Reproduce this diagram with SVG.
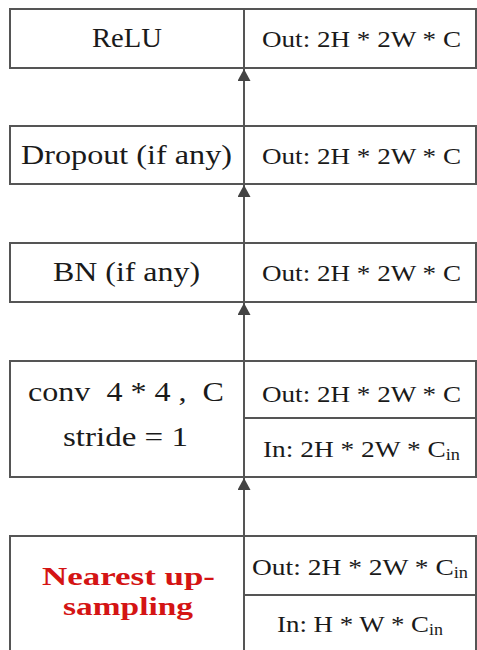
<svg xmlns="http://www.w3.org/2000/svg" width="477" height="650" viewBox="0 0 477 650">
<defs>
<style>
.box{fill:#fff;stroke:#555;stroke-width:2}
.ln{stroke:#555;stroke-width:2;fill:none}
text{font-family:"Liberation Serif","DejaVu Serif",serif;text-anchor:middle;fill:#1a1a1a}
.t{font-size:28px}
.r{font-size:24px}
.red{font-size:26px;font-weight:bold;fill:#d41414}
.sub{font-size:16px}
</style>
<marker id="ah" viewBox="0 0 12 13" refX="12" refY="6.5" markerWidth="12" markerHeight="13" markerUnits="userSpaceOnUse" orient="auto">
<path d="M0,0 L12,6.5 L0,13 Z" fill="#444"/>
</marker>
</defs>
<g id="connectors">
<line class="ln" x1="244" y1="126" x2="244" y2="69" marker-end="url(#ah)"/>
<line class="ln" x1="244" y1="243" x2="244" y2="185" marker-end="url(#ah)"/>
<line class="ln" x1="244" y1="361" x2="244" y2="303" marker-end="url(#ah)"/>
<line class="ln" x1="244" y1="536" x2="244" y2="478" marker-end="url(#ah)"/>
</g>
<g id="relu">
<rect class="box" x="10" y="9" width="466" height="59"/>
<line class="ln" x1="244" y1="9" x2="244" y2="68"/>
<text class="t" x="127" y="47" textLength="70" lengthAdjust="spacingAndGlyphs">ReLU</text>
<text class="r" x="361.5" y="47" textLength="199" lengthAdjust="spacingAndGlyphs">Out: 2H * 2W * C</text>
</g>
<g id="dropout">
<rect class="box" x="10" y="126" width="466" height="58"/>
<line class="ln" x1="244" y1="126" x2="244" y2="184"/>
<text class="t" x="126.5" y="164" textLength="211" lengthAdjust="spacingAndGlyphs">Dropout (if any)</text>
<text class="r" x="361.5" y="164" textLength="199" lengthAdjust="spacingAndGlyphs">Out: 2H * 2W * C</text>
</g>
<g id="bn">
<rect class="box" x="10" y="243" width="466" height="59"/>
<line class="ln" x1="244" y1="243" x2="244" y2="302"/>
<text class="t" x="126.5" y="281" textLength="147" lengthAdjust="spacingAndGlyphs">BN (if any)</text>
<text class="r" x="361.5" y="281" textLength="199" lengthAdjust="spacingAndGlyphs">Out: 2H * 2W * C</text>
</g>
<g id="conv">
<rect class="box" x="10" y="361" width="466" height="116"/>
<line class="ln" x1="244" y1="361" x2="244" y2="477"/>
<line class="ln" x1="244" y1="418" x2="476" y2="418"/>
<text class="t" x="126" y="401" xml:space="preserve" textLength="196" lengthAdjust="spacingAndGlyphs">conv  4 * 4 ,  C</text>
<text class="t" x="125.5" y="446" textLength="125" lengthAdjust="spacingAndGlyphs">stride = 1</text>
<text class="r" x="361.5" y="401.5" textLength="199" lengthAdjust="spacingAndGlyphs">Out: 2H * 2W * C</text>
<text class="r" x="361.5" y="457" textLength="197" lengthAdjust="spacingAndGlyphs">In: 2H * 2W * C<tspan class="sub" dy="3">in</tspan></text>
</g>
<g id="upsampling">
<rect class="box" x="10" y="536" width="466" height="120"/>
<line class="ln" x1="244" y1="536" x2="244" y2="656"/>
<line class="ln" x1="244" y1="595" x2="476" y2="595"/>
<text class="red" x="128.5" y="585" textLength="173" lengthAdjust="spacingAndGlyphs">Nearest up-</text>
<text class="red" x="128" y="615" textLength="130" lengthAdjust="spacingAndGlyphs">sampling</text>
<text class="r" x="360" y="575" textLength="216" lengthAdjust="spacingAndGlyphs">Out: 2H * 2W * C<tspan class="sub" dy="3">in</tspan></text>
<text class="r" x="360" y="632" textLength="166" lengthAdjust="spacingAndGlyphs">In: H * W * C<tspan class="sub" dy="3">in</tspan></text>
</g>
</svg>
